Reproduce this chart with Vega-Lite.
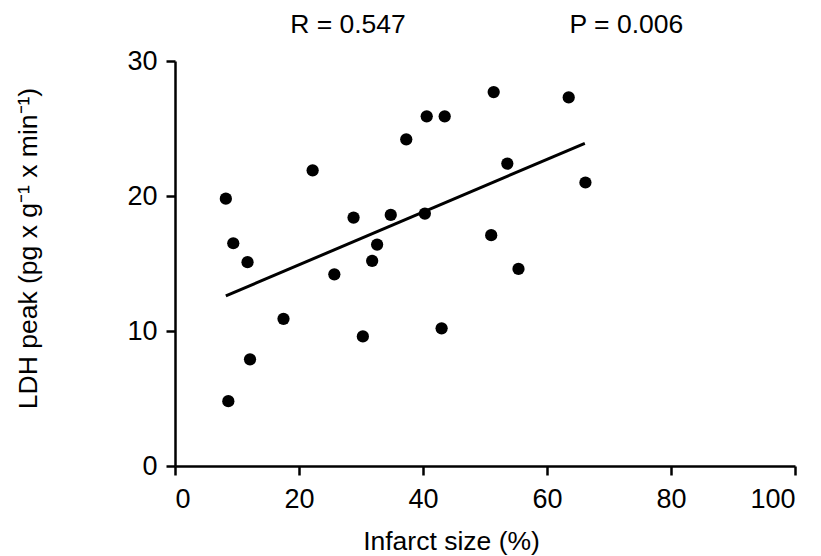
{
  "$schema": "https://vega.github.io/schema/vega-lite/v6.json",
  "autosize": {"type": "none"},
  "padding": {"left": 175, "top": 61, "right": 26, "bottom": 90},
  "width": 620,
  "height": 405,
  "background": "white",
  "config": {
    "view": {"stroke": null},
    "font": "Liberation Sans",
    "axis": {
      "grid": false,
      "domainColor": "black",
      "domainWidth": 2.5,
      "tickColor": "black",
      "tickWidth": 2.5,
      "tickSize": 9,
      "labelFont": "Liberation Sans",
      "labelFontSize": 27,
      "labelColor": "black",
      "titleFont": "Liberation Sans",
      "titleFontSize": 26.5,
      "titleFontWeight": "normal",
      "titleColor": "black"
    }
  },
  "datasets": {
    "points": [
      {"infarct": 8.2, "ldh": 19.8},
      {"infarct": 9.4, "ldh": 16.5},
      {"infarct": 11.7, "ldh": 15.1},
      {"infarct": 8.6, "ldh": 4.8},
      {"infarct": 12.1, "ldh": 7.9},
      {"infarct": 17.5, "ldh": 10.9},
      {"infarct": 22.2, "ldh": 21.9},
      {"infarct": 25.7, "ldh": 14.2},
      {"infarct": 28.8, "ldh": 18.4},
      {"infarct": 30.3, "ldh": 9.6},
      {"infarct": 31.8, "ldh": 15.2},
      {"infarct": 32.6, "ldh": 16.4},
      {"infarct": 34.8, "ldh": 18.6},
      {"infarct": 37.3, "ldh": 24.2},
      {"infarct": 40.3, "ldh": 18.7},
      {"infarct": 40.6, "ldh": 25.9},
      {"infarct": 43.5, "ldh": 25.9},
      {"infarct": 43.0, "ldh": 10.2},
      {"infarct": 51.4, "ldh": 27.7},
      {"infarct": 51.0, "ldh": 17.1},
      {"infarct": 63.5, "ldh": 27.3},
      {"infarct": 53.6, "ldh": 22.4},
      {"infarct": 66.2, "ldh": 21.0},
      {"infarct": 55.4, "ldh": 14.6}
    ],
    "fit": [
      {"infarct": 8.2, "ldh": 12.6},
      {"infarct": 66.1, "ldh": 23.9}
    ],
    "labels": [
      {"label": "R = 0.547", "infarct": 27.9, "ldh": 32.07},
      {"label": "P = 0.006", "infarct": 72.8, "ldh": 32.07}
    ]
  },
  "layer": [
    {
      "data": {"name": "points"},
      "mark": {"type": "point", "filled": true, "color": "black", "opacity": 1, "size": 150, "shape": "circle"},
      "encoding": {
        "x": {
          "field": "infarct", "type": "quantitative",
          "scale": {"domain": [0, 100], "nice": false, "zero": true},
          "axis": {
            "values": [0, 20, 40, 60, 80, 100],
            "title": "Infarct size (%)",
            "labelPadding": 11,
            "labelBaseline": "top",
            "titleX": 276,
            "titleY": 83,
            "titleBaseline": "alphabetic"
          }
        },
        "y": {
          "field": "ldh", "type": "quantitative",
          "scale": {"domain": [0, 30], "nice": false},
          "axis": {
            "values": [0, 10, 20, 30],
            "title": "LDH peak (pg x g⁻¹ x min⁻¹)",
            "labelPadding": 9,
            "titleX": -147,
            "titleY": 187,
            "titleBaseline": "middle"
          }
        }
      }
    },
    {
      "data": {"name": "fit"},
      "mark": {"type": "line", "color": "black", "strokeWidth": 3},
      "encoding": {
        "x": {"field": "infarct", "type": "quantitative"},
        "y": {"field": "ldh", "type": "quantitative"}
      }
    },
    {
      "data": {"name": "labels"},
      "mark": {"type": "text", "fontSize": 26.5, "font": "Liberation Sans", "color": "black", "align": "center", "baseline": "alphabetic", "clip": false},
      "encoding": {
        "x": {"field": "infarct", "type": "quantitative"},
        "y": {"field": "ldh", "type": "quantitative"},
        "text": {"field": "label"}
      }
    }
  ]
}
